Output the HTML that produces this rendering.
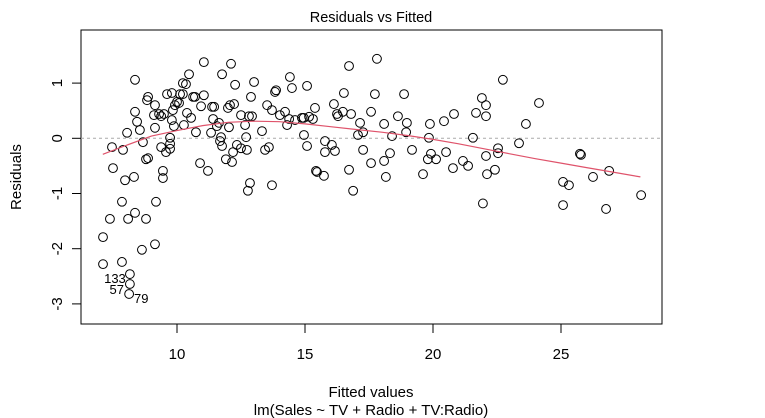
<!DOCTYPE html>
<html><head><meta charset="utf-8">
<style>
html,body{margin:0;padding:0;background:#fff;}
svg{display:block;font-family:"Liberation Sans",Arial,sans-serif;}
</style></head>
<body>
<svg id="chart" width="765" height="418" viewBox="0 0 765 418">
<text x="371" y="22" font-size="14.5" text-anchor="middle">Residuals vs Fitted</text>
<rect x="81" y="30" width="581" height="294" fill="none" stroke="#000" stroke-width="1"/>
<text x="371" y="397" font-size="15" text-anchor="middle">Fitted values</text>
<text x="371" y="415" font-size="15" text-anchor="middle">lm(Sales ~ TV + Radio + TV:Radio)</text>
<text x="0" y="0" font-size="15" text-anchor="middle" transform="translate(21,177) rotate(-90)">Residuals</text>
<g id="axes"></g>
<g id="marks"></g>
</svg>
<script>
const fitted = [7.11,7.11,7.38,7.46,7.50,7.85,7.85,7.89,7.97,8.05,8.09,8.16,8.16,8.13,8.36,8.36,8.36,8.32,8.44,8.55,8.63,8.67,8.79,8.79,8.87,8.83,8.87,9.14,9.10,9.14,9.18,9.14,9.30,9.38,9.38,9.45,9.45,9.49,9.57,9.61,9.73,9.73,9.73,9.80,9.80,9.84,9.88,9.92,10.00,10.08,10.12,10.23,10.23,10.35,10.27,10.39,10.47,10.55,10.63,10.70,10.74,10.90,10.94,11.05,11.05,11.21,11.33,11.37,11.45,11.41,11.56,11.64,11.68,11.72,11.76,11.76,11.91,11.99,12.03,12.07,12.11,12.15,12.19,12.23,12.27,12.34,12.50,12.50,12.66,12.70,12.73,12.77,12.85,12.89,12.81,12.93,13.01,13.32,13.44,13.59,13.52,13.71,13.71,13.83,13.87,14.02,14.22,14.30,14.38,14.41,14.49,14.61,14.88,14.95,14.96,15.08,15.08,15.16,15.31,15.39,15.43,15.47,15.74,15.78,15.78,16.05,16.13,16.17,16.25,16.29,16.48,16.52,16.72,16.72,16.80,16.88,17.07,17.15,17.27,17.27,17.58,17.58,17.73,17.81,18.09,18.09,18.16,18.32,18.40,18.63,18.87,18.95,18.98,19.18,19.61,19.80,19.88,19.84,19.92,20.12,20.43,20.51,20.82,20.78,21.17,21.37,21.56,21.68,21.91,22.07,22.07,21.95,22.07,22.11,22.42,22.54,22.54,22.73,23.36,23.63,24.14,25.08,25.31,25.08,25.74,25.78,26.25,26.76,26.88,28.13];
const residuals = [-2.28,-1.79,-1.46,-0.16,-0.54,-2.24,-1.15,-0.21,-0.76,0.10,-1.46,-2.46,-2.64,-2.82,1.06,0.48,-1.35,-0.70,0.30,0.15,-2.02,-0.07,-1.46,-0.38,-0.36,0.69,0.75,0.60,0.42,0.19,-1.15,-1.92,0.44,0.40,-0.16,-0.59,-0.72,0.44,-0.25,0.80,0.01,-0.10,-0.19,0.82,0.33,0.51,0.22,0.60,0.66,0.64,0.80,0.80,1.00,0.98,0.24,0.46,1.16,0.37,0.75,0.75,0.11,-0.45,0.58,1.38,0.78,-0.59,0.10,0.57,0.57,0.35,0.22,0.28,-0.05,0.02,-0.14,1.16,-0.38,0.55,0.20,0.60,1.35,-0.43,-0.25,0.62,0.97,-0.12,0.42,-0.18,0.24,0.02,-0.21,-0.95,-0.81,0.75,0.40,0.40,1.02,0.13,-0.21,-0.16,0.60,0.51,-0.85,0.84,0.87,0.42,0.48,0.24,0.35,1.11,0.91,0.33,0.37,0.37,0.06,-0.14,0.95,0.39,0.35,0.55,-0.59,-0.61,-0.68,-0.05,-0.25,-0.12,0.62,-0.23,0.44,0.40,0.48,0.82,1.31,-0.57,0.44,-0.95,0.06,0.28,0.11,-0.21,0.48,-0.45,0.80,1.44,0.26,-0.41,-0.70,-0.27,0.04,0.40,0.80,0.11,0.28,-0.21,-0.65,-0.38,0.26,0.01,-0.28,-0.38,0.31,-0.25,0.44,-0.54,-0.41,-0.50,0.01,0.46,0.73,0.60,0.40,-1.18,-0.32,-0.65,-0.57,-0.18,-0.27,1.06,-0.09,0.26,0.64,-0.79,-0.85,-1.21,-0.28,-0.30,-0.70,-1.28,-0.59,-1.03];
const smoothX = [7.1,8,9,10,11,12,13,14,15,16,17,18,19,20,21,22,23,24,25,26,27,28.1];
const smoothY = [-0.29,-0.13,0.04,0.14,0.23,0.29,0.31,0.30,0.26,0.21,0.16,0.11,0.05,-0.02,-0.10,-0.19,-0.28,-0.37,-0.45,-0.53,-0.61,-0.70];
const xTicks = [10,15,20,25];
const yTicks = [-3,-2,-1,0,1];
const labelFitted = [8.0,7.93,8.32];
const labelResid = [-2.54,-2.74,-2.9];
const labelText = ["133","57","79"];

const NS = "http://www.w3.org/2000/svg";
function sx(v){ return 177 + (v - 10) * 25.6; }
function sy(v){ return 138.3 - v * 55.2; }
function mk(tag, attrs, parent){
  const el = document.createElementNS(NS, tag);
  for (const k in attrs) el.setAttribute(k, attrs[k]);
  parent.appendChild(el);
  return el;
}
const axes = document.getElementById('axes');
const marks = document.getElementById('marks');

xTicks.forEach(t => {
  const l = mk('line', {x1:sx(t), x2:sx(t), y1:324, y2:333, stroke:'#000'}, axes);
  
  
  const tx = mk('text', {x:sx(t), y:359, 'font-size':15, 'text-anchor':'middle'}, axes);
  tx.textContent = t;
  
  
});
yTicks.forEach(t => {
  const l = mk('line', {x1:72, x2:81, y1:sy(t), y2:sy(t), stroke:'#000'}, axes);
  
  
  const tx = mk('text', {x:0, y:0, 'font-size':15, 'text-anchor':'middle', transform:'translate(62,' + sy(t) + ') rotate(-90)'}, axes);
  tx.textContent = t;
  
  
});

const zero = mk('line', {x1:81, x2:662, y1:sy(0), y2:sy(0), stroke:'#aaa', 'stroke-dasharray':'3,3'}, marks);



fitted.forEach((f, i) => {
  const c = mk('circle', {cx:sx(f), cy:sy(residuals[i]), r:4.4, fill:'none', stroke:'#000', 'stroke-width':1}, marks);
  
  
});

const pts = smoothX.map((x, i) => sx(x).toFixed(1) + ',' + sy(smoothY[i]).toFixed(1)).join(' ');
const sm = mk('polyline', {points:pts, fill:'none', stroke:'#DF536B', 'stroke-width':1.2}, marks);



const anchors = ['end','end','start'];
labelText.forEach((t, i) => {
  const tx = mk('text', {x:sx(labelFitted[i]), y:sy(labelResid[i]) + 4.5, 'font-size':13, 'text-anchor':anchors[i]}, marks);
  tx.textContent = t;
  
  
});
</script>
</body></html>
